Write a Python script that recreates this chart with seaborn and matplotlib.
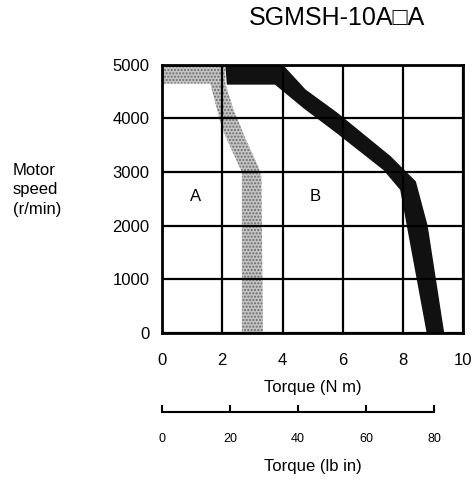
import numpy as np
import matplotlib
matplotlib.use("Agg")
import matplotlib.pyplot as plt
import seaborn as sns

# Region A (intermittent duty boundary, grey stippled band)
a_outer_x = [0.0, 2.1, 2.1, 2.35, 2.75, 3.2, 3.3, 3.35]
a_outer_y = [5000, 5000, 4650, 4200, 3650, 3100, 2900, 0]
a_inner_x = [2.65, 2.65, 2.0, 1.6, 0.0]
a_inner_y = [0, 3000, 3800, 4650, 4650]

# Region B boundary (black band)
b_outer_x = [2.1, 3.98, 4.75, 5.8, 7.57, 8.41, 8.8, 9.35]
b_outer_y = [5000, 5000, 4530, 4100, 3290, 2820, 2000, 0]
b_inner_x = [8.79, 8.13, 7.91, 7.35, 5.8, 4.7, 3.75, 2.15]
b_inner_y = [0, 2000, 2670, 3040, 3725, 4190, 4630, 4630]

x_ticks = [0, 2, 4, 6, 8, 10]
y_ticks = [0, 1000, 2000, 3000, 4000, 5000]
lbin_ticks = [0, 20, 40, 60, 80]
NM_TO_LBIN = 8.8507

sns.set_style("white")
plt.rcParams['font.family'] = ['Liberation Sans', 'DejaVu Sans']
plt.rcParams['text.color'] = 'black'
plt.rcParams['axes.labelcolor'] = 'black'
plt.rcParams['xtick.color'] = 'black'
plt.rcParams['ytick.color'] = 'black'

fig = plt.figure(figsize=(4.74, 4.8), dpi=100)
ax = fig.add_axes([0.342, 0.306, 0.635, 0.559])

# grey stippled band
ax.fill(a_outer_x + a_inner_x, a_outer_y + a_inner_y, facecolor='#c4c4c4',
        edgecolor='#6a6a6a', hatch='.....', linewidth=0, zorder=1)
# black band
ax.fill(b_outer_x + b_inner_x, b_outer_y + b_inner_y, facecolor='#111111',
        edgecolor='none', linewidth=0, zorder=1)
sns.lineplot(x=b_outer_x, y=b_outer_y, sort=False, ax=ax, color='#111111',
             linewidth=1, zorder=1)

ax.set_xlim(0, 10)
ax.set_ylim(0, 5000)
ax.set_xticks(x_ticks)
ax.set_yticks(y_ticks)
ax.grid(True, color='black', linewidth=1.6)
ax.set_axisbelow(False)
for spine in ax.spines.values():
    spine.set_edgecolor('black')
    spine.set_linewidth(2)
ax.tick_params(axis='x', length=0, pad=14, labelsize=12)
ax.tick_params(axis='y', length=0, pad=9, labelsize=12)
ax.set_xlabel('Torque (N m)', fontsize=12, labelpad=9)

ax.text(1.1, 2550, 'A', fontsize=12, ha='center', va='center')
ax.text(5.08, 2550, 'B', fontsize=12, ha='center', va='center')

# secondary torque scale in lb in
ax2 = fig.add_axes([0.342, 0.1417, 0.635, 0.0001])
ax2.set_xlim(0, 10 * NM_TO_LBIN)
for s in ['top', 'left', 'right']:
    ax2.spines[s].set_visible(False)
ax2.spines['bottom'].set_bounds(0, 80)
ax2.spines['bottom'].set_linewidth(1.5)
ax2.spines['bottom'].set_edgecolor('black')
ax2.set_yticks([])
ax2.set_xticks(lbin_ticks)
ax2.tick_params(axis='x', bottom=True, direction='in', length=5, width=1.5,
                pad=15, labelsize=9)
ax2.set_xlabel('Torque (lb in)', fontsize=12, labelpad=10)

fig.text(13 / 474, 1 - 190 / 480, 'Motor\nspeed\n(r/min)', fontsize=12,
         ha='left', va='center', linespacing=1.4)
fig.text(337 / 474, 1 - 18 / 480, 'SGMSH-10A\u25a1A', fontsize=18,
         ha='center', va='center')

fig.savefig('out.png', dpi=100, facecolor='white')
